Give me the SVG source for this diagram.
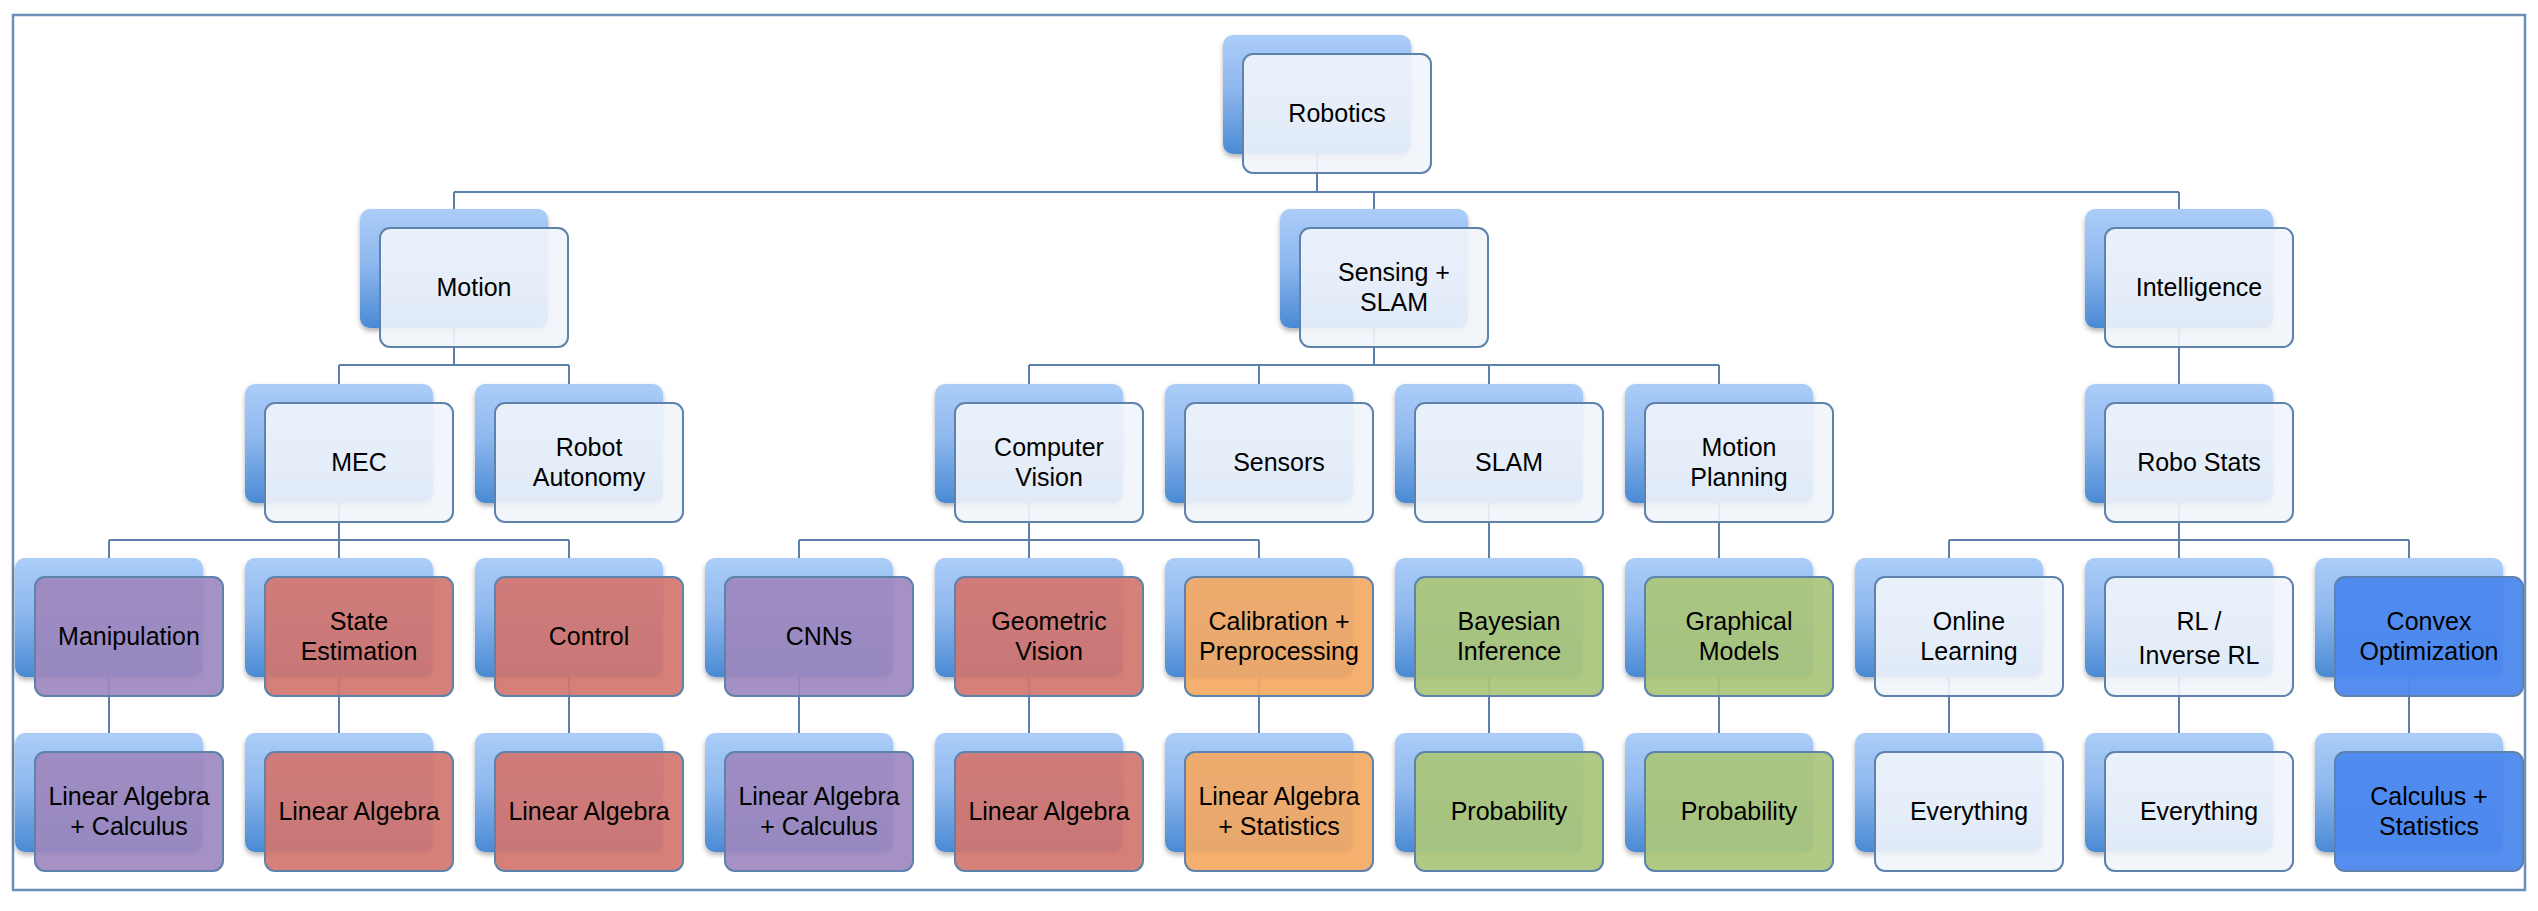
<svg xmlns="http://www.w3.org/2000/svg" width="2538" height="911" viewBox="0 0 2538 911">
<defs>
<linearGradient id="bg" x1="0" y1="0" x2="0" y2="1">
<stop offset="0" stop-color="#abcdf8"/>
<stop offset="0.45" stop-color="#8fb8ee"/>
<stop offset="1" stop-color="#4a8ad4"/>
</linearGradient>
<filter id="sh" x="-10%" y="-10%" width="120%" height="125%">
<feDropShadow dx="0" dy="3" stdDeviation="2.5" flood-color="#000" flood-opacity="0.3"/>
</filter>
</defs>
<style>
.frame{fill:#fff;stroke:#6b8fb6;stroke-width:2.5}
.conn{fill:none;stroke:#5b81ab;stroke-width:2}
.back{fill:url(#bg);filter:url(#sh)}
.front{stroke:#5d82ac;stroke-width:2}
.white{fill:#f1f5fb;fill-opacity:0.9}
.purple{fill:#9d88be;fill-opacity:0.92}
.red{fill:#d2756f;fill-opacity:0.92}
.orange{fill:#f4a964;fill-opacity:0.93}
.green{fill:#abc67a;fill-opacity:0.93}
.blue{fill:#4c88ee;fill-opacity:0.95}
text{font-family:"Liberation Sans",Arial,sans-serif;font-size:25px;fill:#000;text-anchor:middle}
</style>
<rect class="frame" x="13" y="15" width="2512" height="875"/>
<g id="connectors">
<path class="conn" d="M1317,153V192M454,192H2179M454,192V209M1374,192V209M2179,192V209"/>
<path class="conn" d="M454,328V365M339,365H569M339,365V384M569,365V384"/>
<path class="conn" d="M1374,328V365M1029,365H1719M1029,365V384M1259,365V384M1489,365V384M1719,365V384"/>
<path class="conn" d="M2179,328V384"/>
<path class="conn" d="M339,503V540M109,540H569M109,540V558M339,540V558M569,540V558"/>
<path class="conn" d="M1029,503V540M799,540H1259M799,540V558M1029,540V558M1259,540V558"/>
<path class="conn" d="M1489,503V558M1719,503V558"/>
<path class="conn" d="M2179,503V540M1949,540H2409M1949,540V558M2179,540V558M2409,540V558"/>
<path class="conn" d="M109,677V733M339,677V733M569,677V733M799,677V733M1029,677V733M1259,677V733M1489,677V733M1719,677V733M1949,677V733M2179,677V733M2409,677V733"/>
</g>
<g id="robotics"><rect class="back" x="1223" y="35" width="188" height="119" rx="10"/><rect class="front white" x="1243" y="54" width="188" height="119" rx="10"/><text x="1337" y="122">Robotics</text></g>
<g id="motion"><rect class="back" x="360" y="209" width="188" height="119" rx="10"/><rect class="front white" x="380" y="228" width="188" height="119" rx="10"/><text x="474" y="296">Motion</text></g>
<g id="sensing-slam"><rect class="back" x="1280" y="209" width="188" height="119" rx="10"/><rect class="front white" x="1300" y="228" width="188" height="119" rx="10"/><text x="1394" y="281">Sensing +</text><text x="1394" y="311">SLAM</text></g>
<g id="intelligence"><rect class="back" x="2085" y="209" width="188" height="119" rx="10"/><rect class="front white" x="2105" y="228" width="188" height="119" rx="10"/><text x="2199" y="296">Intelligence</text></g>
<g id="mec"><rect class="back" x="245" y="384" width="188" height="119" rx="10"/><rect class="front white" x="265" y="403" width="188" height="119" rx="10"/><text x="359" y="471">MEC</text></g>
<g id="robot-autonomy"><rect class="back" x="475" y="384" width="188" height="119" rx="10"/><rect class="front white" x="495" y="403" width="188" height="119" rx="10"/><text x="589" y="456">Robot</text><text x="589" y="486">Autonomy</text></g>
<g id="computer-vision"><rect class="back" x="935" y="384" width="188" height="119" rx="10"/><rect class="front white" x="955" y="403" width="188" height="119" rx="10"/><text x="1049" y="456">Computer</text><text x="1049" y="486">Vision</text></g>
<g id="sensors"><rect class="back" x="1165" y="384" width="188" height="119" rx="10"/><rect class="front white" x="1185" y="403" width="188" height="119" rx="10"/><text x="1279" y="471">Sensors</text></g>
<g id="slam"><rect class="back" x="1395" y="384" width="188" height="119" rx="10"/><rect class="front white" x="1415" y="403" width="188" height="119" rx="10"/><text x="1509" y="471">SLAM</text></g>
<g id="motion-planning"><rect class="back" x="1625" y="384" width="188" height="119" rx="10"/><rect class="front white" x="1645" y="403" width="188" height="119" rx="10"/><text x="1739" y="456">Motion</text><text x="1739" y="486">Planning</text></g>
<g id="robo-stats"><rect class="back" x="2085" y="384" width="188" height="119" rx="10"/><rect class="front white" x="2105" y="403" width="188" height="119" rx="10"/><text x="2199" y="471">Robo Stats</text></g>
<g id="manipulation"><rect class="back" x="15" y="558" width="188" height="119" rx="10"/><rect class="front purple" x="35" y="577" width="188" height="119" rx="10"/><text x="129" y="645">Manipulation</text></g>
<g id="state-estimation"><rect class="back" x="245" y="558" width="188" height="119" rx="10"/><rect class="front red" x="265" y="577" width="188" height="119" rx="10"/><text x="359" y="630">State</text><text x="359" y="660">Estimation</text></g>
<g id="control"><rect class="back" x="475" y="558" width="188" height="119" rx="10"/><rect class="front red" x="495" y="577" width="188" height="119" rx="10"/><text x="589" y="645">Control</text></g>
<g id="cnns"><rect class="back" x="705" y="558" width="188" height="119" rx="10"/><rect class="front purple" x="725" y="577" width="188" height="119" rx="10"/><text x="819" y="645">CNNs</text></g>
<g id="geometric-vision"><rect class="back" x="935" y="558" width="188" height="119" rx="10"/><rect class="front red" x="955" y="577" width="188" height="119" rx="10"/><text x="1049" y="630">Geometric</text><text x="1049" y="660">Vision</text></g>
<g id="calibration"><rect class="back" x="1165" y="558" width="188" height="119" rx="10"/><rect class="front orange" x="1185" y="577" width="188" height="119" rx="10"/><text x="1279" y="630">Calibration +</text><text x="1279" y="660">Preprocessing</text></g>
<g id="bayesian-inference"><rect class="back" x="1395" y="558" width="188" height="119" rx="10"/><rect class="front green" x="1415" y="577" width="188" height="119" rx="10"/><text x="1509" y="630">Bayesian</text><text x="1509" y="660">Inference</text></g>
<g id="graphical-models"><rect class="back" x="1625" y="558" width="188" height="119" rx="10"/><rect class="front green" x="1645" y="577" width="188" height="119" rx="10"/><text x="1739" y="630">Graphical</text><text x="1739" y="660">Models</text></g>
<g id="online-learning"><rect class="back" x="1855" y="558" width="188" height="119" rx="10"/><rect class="front white" x="1875" y="577" width="188" height="119" rx="10"/><text x="1969" y="630">Online</text><text x="1969" y="660">Learning</text></g>
<g id="rl"><rect class="back" x="2085" y="558" width="188" height="119" rx="10"/><rect class="front white" x="2105" y="577" width="188" height="119" rx="10"/><text x="2199" y="630">RL /</text><text x="2199" y="664">Inverse RL</text></g>
<g id="convex-optimization"><rect class="back" x="2315" y="558" width="188" height="119" rx="10"/><rect class="front blue" x="2335" y="577" width="188" height="119" rx="10"/><text x="2429" y="630">Convex</text><text x="2429" y="660">Optimization</text></g>
<g id="la-calc-1"><rect class="back" x="15" y="733" width="188" height="119" rx="10"/><rect class="front purple" x="35" y="752" width="188" height="119" rx="10"/><text x="129" y="805">Linear Algebra</text><text x="129" y="835">+ Calculus</text></g>
<g id="la-1"><rect class="back" x="245" y="733" width="188" height="119" rx="10"/><rect class="front red" x="265" y="752" width="188" height="119" rx="10"/><text x="359" y="820">Linear Algebra</text></g>
<g id="la-2"><rect class="back" x="475" y="733" width="188" height="119" rx="10"/><rect class="front red" x="495" y="752" width="188" height="119" rx="10"/><text x="589" y="820">Linear Algebra</text></g>
<g id="la-calc-2"><rect class="back" x="705" y="733" width="188" height="119" rx="10"/><rect class="front purple" x="725" y="752" width="188" height="119" rx="10"/><text x="819" y="805">Linear Algebra</text><text x="819" y="835">+ Calculus</text></g>
<g id="la-3"><rect class="back" x="935" y="733" width="188" height="119" rx="10"/><rect class="front red" x="955" y="752" width="188" height="119" rx="10"/><text x="1049" y="820">Linear Algebra</text></g>
<g id="la-stats"><rect class="back" x="1165" y="733" width="188" height="119" rx="10"/><rect class="front orange" x="1185" y="752" width="188" height="119" rx="10"/><text x="1279" y="805">Linear Algebra</text><text x="1279" y="835">+ Statistics</text></g>
<g id="probability-1"><rect class="back" x="1395" y="733" width="188" height="119" rx="10"/><rect class="front green" x="1415" y="752" width="188" height="119" rx="10"/><text x="1509" y="820">Probability</text></g>
<g id="probability-2"><rect class="back" x="1625" y="733" width="188" height="119" rx="10"/><rect class="front green" x="1645" y="752" width="188" height="119" rx="10"/><text x="1739" y="820">Probability</text></g>
<g id="everything-1"><rect class="back" x="1855" y="733" width="188" height="119" rx="10"/><rect class="front white" x="1875" y="752" width="188" height="119" rx="10"/><text x="1969" y="820">Everything</text></g>
<g id="everything-2"><rect class="back" x="2085" y="733" width="188" height="119" rx="10"/><rect class="front white" x="2105" y="752" width="188" height="119" rx="10"/><text x="2199" y="820">Everything</text></g>
<g id="calc-stats"><rect class="back" x="2315" y="733" width="188" height="119" rx="10"/><rect class="front blue" x="2335" y="752" width="188" height="119" rx="10"/><text x="2429" y="805">Calculus +</text><text x="2429" y="835">Statistics</text></g>
</svg>
